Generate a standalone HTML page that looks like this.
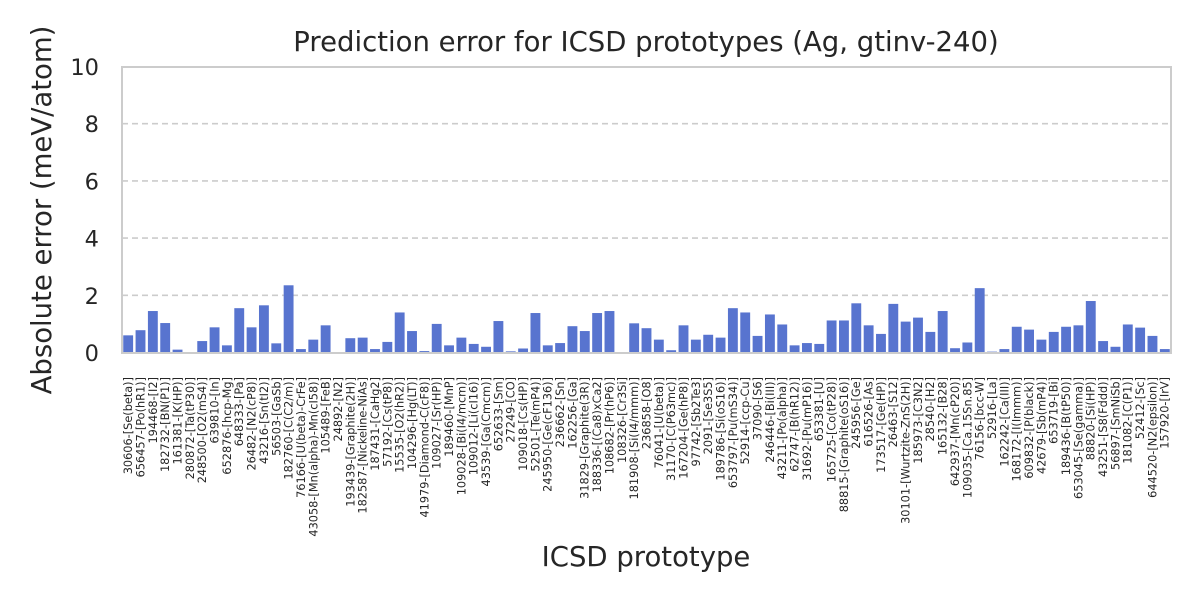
<!DOCTYPE html>
<html><head><meta charset="utf-8"><style>
html,body{margin:0;padding:0;background:#fff;}
svg{display:block;font-family:"DejaVu Sans","Liberation Sans",sans-serif;}
</style></head><body>
<svg width="1200" height="600" viewBox="0 0 1200 600" xmlns="http://www.w3.org/2000/svg">
<rect width="1200" height="600" fill="#fff"/>
<g stroke="#cccccc" stroke-width="1.6" stroke-dasharray="6,4">
<line x1="122" x2="1171" y1="295.3" y2="295.3"/>
<line x1="122" x2="1171" y1="238.1" y2="238.1"/>
<line x1="122" x2="1171" y1="180.9" y2="180.9"/>
<line x1="122" x2="1171" y1="123.7" y2="123.7"/>
</g>
<g transform="translate(122,352.5) scale(12.341,-28.6)" fill="#5874cf">
<rect x="0.1" width="0.8" height="0.6"/>
<rect x="1.1" width="0.8" height="0.78"/>
<rect x="2.1" width="0.8" height="1.45"/>
<rect x="3.1" width="0.8" height="1.03"/>
<rect x="4.1" width="0.8" height="0.1"/>
<rect x="5.1" width="0.8" height="0.0"/>
<rect x="6.1" width="0.8" height="0.4"/>
<rect x="7.1" width="0.8" height="0.88"/>
<rect x="8.1" width="0.8" height="0.25"/>
<rect x="9.1" width="0.8" height="1.55"/>
<rect x="10.1" width="0.8" height="0.88"/>
<rect x="11.1" width="0.8" height="1.65"/>
<rect x="12.1" width="0.8" height="0.32"/>
<rect x="13.1" width="0.8" height="2.35"/>
<rect x="14.1" width="0.8" height="0.12"/>
<rect x="15.1" width="0.8" height="0.45"/>
<rect x="16.1" width="0.8" height="0.95"/>
<rect x="17.1" width="0.8" height="0.0"/>
<rect x="18.1" width="0.8" height="0.5"/>
<rect x="19.1" width="0.8" height="0.52"/>
<rect x="20.1" width="0.8" height="0.12"/>
<rect x="21.1" width="0.8" height="0.37"/>
<rect x="22.1" width="0.8" height="1.4"/>
<rect x="23.1" width="0.8" height="0.75"/>
<rect x="24.1" width="0.8" height="0.05"/>
<rect x="25.1" width="0.8" height="1.0"/>
<rect x="26.1" width="0.8" height="0.25"/>
<rect x="27.1" width="0.8" height="0.52"/>
<rect x="28.1" width="0.8" height="0.3"/>
<rect x="29.1" width="0.8" height="0.2"/>
<rect x="30.1" width="0.8" height="1.1"/>
<rect x="31.1" width="0.8" height="0.04"/>
<rect x="32.1" width="0.8" height="0.14"/>
<rect x="33.1" width="0.8" height="1.38"/>
<rect x="34.1" width="0.8" height="0.25"/>
<rect x="35.1" width="0.8" height="0.33"/>
<rect x="36.1" width="0.8" height="0.92"/>
<rect x="37.1" width="0.8" height="0.75"/>
<rect x="38.1" width="0.8" height="1.38"/>
<rect x="39.1" width="0.8" height="1.45"/>
<rect x="40.1" width="0.8" height="0.0"/>
<rect x="41.1" width="0.8" height="1.02"/>
<rect x="42.1" width="0.8" height="0.85"/>
<rect x="43.1" width="0.8" height="0.45"/>
<rect x="44.1" width="0.8" height="0.08"/>
<rect x="45.1" width="0.8" height="0.95"/>
<rect x="46.1" width="0.8" height="0.45"/>
<rect x="47.1" width="0.8" height="0.62"/>
<rect x="48.1" width="0.8" height="0.52"/>
<rect x="49.1" width="0.8" height="1.55"/>
<rect x="50.1" width="0.8" height="1.4"/>
<rect x="51.1" width="0.8" height="0.58"/>
<rect x="52.1" width="0.8" height="1.33"/>
<rect x="53.1" width="0.8" height="0.98"/>
<rect x="54.1" width="0.8" height="0.25"/>
<rect x="55.1" width="0.8" height="0.33"/>
<rect x="56.1" width="0.8" height="0.3"/>
<rect x="57.1" width="0.8" height="1.12"/>
<rect x="58.1" width="0.8" height="1.12"/>
<rect x="59.1" width="0.8" height="1.72"/>
<rect x="60.1" width="0.8" height="0.95"/>
<rect x="61.1" width="0.8" height="0.65"/>
<rect x="62.1" width="0.8" height="1.7"/>
<rect x="63.1" width="0.8" height="1.08"/>
<rect x="64.1" width="0.8" height="1.22"/>
<rect x="65.1" width="0.8" height="0.72"/>
<rect x="66.1" width="0.8" height="1.45"/>
<rect x="67.1" width="0.8" height="0.15"/>
<rect x="68.1" width="0.8" height="0.35"/>
<rect x="69.1" width="0.8" height="2.25"/>
<rect x="70.1" width="0.8" height="0.03"/>
<rect x="71.1" width="0.8" height="0.12"/>
<rect x="72.1" width="0.8" height="0.9"/>
<rect x="73.1" width="0.8" height="0.8"/>
<rect x="74.1" width="0.8" height="0.45"/>
<rect x="75.1" width="0.8" height="0.72"/>
<rect x="76.1" width="0.8" height="0.9"/>
<rect x="77.1" width="0.8" height="0.95"/>
<rect x="78.1" width="0.8" height="1.8"/>
<rect x="79.1" width="0.8" height="0.4"/>
<rect x="80.1" width="0.8" height="0.2"/>
<rect x="81.1" width="0.8" height="0.98"/>
<rect x="82.1" width="0.8" height="0.87"/>
<rect x="83.1" width="0.8" height="0.58"/>
<rect x="84.1" width="0.8" height="0.12"/>
</g>
<rect x="122" y="67" width="1049" height="286" fill="none" stroke="#cccccc" stroke-width="2"/>
<g font-size="22.5" fill="#262626" text-anchor="end">
<text x="99" y="361">0</text>
<text x="99" y="303.8">2</text>
<text x="99" y="246.6">4</text>
<text x="99" y="189.4">6</text>
<text x="99" y="132.2">8</text>
<text x="99" y="75">10</text>
</g>
<text x="646" y="51" font-size="27.5" fill="#262626" text-anchor="middle">Prediction error for ICSD prototypes (Ag, gtinv-240)</text>
<text x="646" y="566" font-size="27.5" fill="#262626" text-anchor="middle">ICSD prototype</text>
<text transform="translate(51,210) rotate(-90)" font-size="27.5" fill="#262626" text-anchor="middle">Absolute error (meV/atom)</text>
<g font-size="11.3" fill="#262626" text-anchor="end">
<text transform="translate(128.2,377) rotate(-90)" dy="0.35em">30606-[Se(beta)]</text>
<text transform="translate(140.5,377) rotate(-90)" dy="0.35em">656457-[Po(hR1)]</text>
<text transform="translate(152.9,377) rotate(-90)" dy="0.35em">194468-[I2]</text>
<text transform="translate(165.2,377) rotate(-90)" dy="0.35em">182732-[BN(P1)]</text>
<text transform="translate(177.5,377) rotate(-90)" dy="0.35em">161381-[K(HP)]</text>
<text transform="translate(189.9,377) rotate(-90)" dy="0.35em">280872-[Ta(tP30)]</text>
<text transform="translate(202.2,377) rotate(-90)" dy="0.35em">248500-[O2(mS4)]</text>
<text transform="translate(214.6,377) rotate(-90)" dy="0.35em">639810-[In]</text>
<text transform="translate(226.9,377) rotate(-90)" dy="0.35em">652876-[hcp-Mg]</text>
<text transform="translate(239.2,377) rotate(-90)" dy="0.35em">648333-[Pa]</text>
<text transform="translate(251.6,377) rotate(-90)" dy="0.35em">26482-[N2(cP8)]</text>
<text transform="translate(263.9,377) rotate(-90)" dy="0.35em">43216-[Sn(tI2)]</text>
<text transform="translate(276.3,377) rotate(-90)" dy="0.35em">56503-[GaSb]</text>
<text transform="translate(288.6,377) rotate(-90)" dy="0.35em">182760-[C(C2/m)]</text>
<text transform="translate(300.9,377) rotate(-90)" dy="0.35em">76166-[U(beta)-CrFe]</text>
<text transform="translate(313.3,377) rotate(-90)" dy="0.35em">43058-[Mn(alpha)-Mn(cI58)]</text>
<text transform="translate(325.6,377) rotate(-90)" dy="0.35em">105489-[FeB]</text>
<text transform="translate(337.9,377) rotate(-90)" dy="0.35em">24892-[N2]</text>
<text transform="translate(350.3,377) rotate(-90)" dy="0.35em">193439-[Graphite(2H)]</text>
<text transform="translate(362.6,377) rotate(-90)" dy="0.35em">182587-[Nickeline-NiAs]</text>
<text transform="translate(375.0,377) rotate(-90)" dy="0.35em">187431-[CaHg2]</text>
<text transform="translate(387.3,377) rotate(-90)" dy="0.35em">57192-[Cs(tP8)]</text>
<text transform="translate(399.6,377) rotate(-90)" dy="0.35em">15535-[O2(hR2)]</text>
<text transform="translate(412.0,377) rotate(-90)" dy="0.35em">104296-[Hg(LT)]</text>
<text transform="translate(424.3,377) rotate(-90)" dy="0.35em">41979-[Diamond-C(cF8)]</text>
<text transform="translate(436.7,377) rotate(-90)" dy="0.35em">109027-[Sr(HP)]</text>
<text transform="translate(449.0,377) rotate(-90)" dy="0.35em">189460-[MnP]</text>
<text transform="translate(461.3,377) rotate(-90)" dy="0.35em">109028-[Bi(I4/mcm)]</text>
<text transform="translate(473.7,377) rotate(-90)" dy="0.35em">109012-[Li(cI16)]</text>
<text transform="translate(486.0,377) rotate(-90)" dy="0.35em">43539-[Ga(Cmcm)]</text>
<text transform="translate(498.4,377) rotate(-90)" dy="0.35em">652633-[Sm]</text>
<text transform="translate(510.7,377) rotate(-90)" dy="0.35em">27249-[CO]</text>
<text transform="translate(523.0,377) rotate(-90)" dy="0.35em">109018-[Cs(HP)]</text>
<text transform="translate(535.4,377) rotate(-90)" dy="0.35em">52501-[Te(mP4)]</text>
<text transform="translate(547.7,377) rotate(-90)" dy="0.35em">245950-[Ge(cF136)]</text>
<text transform="translate(560.1,377) rotate(-90)" dy="0.35em">236662-[Sn]</text>
<text transform="translate(572.4,377) rotate(-90)" dy="0.35em">162256-[Ga]</text>
<text transform="translate(584.7,377) rotate(-90)" dy="0.35em">31829-[Graphite(3R)]</text>
<text transform="translate(597.1,377) rotate(-90)" dy="0.35em">188336-[(Ca8)xCa2]</text>
<text transform="translate(609.4,377) rotate(-90)" dy="0.35em">108682-[Pr(hP6)]</text>
<text transform="translate(621.8,377) rotate(-90)" dy="0.35em">108326-[Cr3Si]</text>
<text transform="translate(634.1,377) rotate(-90)" dy="0.35em">181908-[Si(I4/mmm)]</text>
<text transform="translate(646.4,377) rotate(-90)" dy="0.35em">236858-[O8]</text>
<text transform="translate(658.8,377) rotate(-90)" dy="0.35em">76041-[U(beta)]</text>
<text transform="translate(671.1,377) rotate(-90)" dy="0.35em">31170-[C(P63mc)]</text>
<text transform="translate(683.5,377) rotate(-90)" dy="0.35em">167204-[Ge(hP8)]</text>
<text transform="translate(695.8,377) rotate(-90)" dy="0.35em">97742-[Sb2Te3]</text>
<text transform="translate(708.1,377) rotate(-90)" dy="0.35em">2091-[Se3S5]</text>
<text transform="translate(720.5,377) rotate(-90)" dy="0.35em">189786-[Si(oS16)]</text>
<text transform="translate(732.8,377) rotate(-90)" dy="0.35em">653797-[Pu(mS34)]</text>
<text transform="translate(745.1,377) rotate(-90)" dy="0.35em">52914-[ccp-Cu]</text>
<text transform="translate(757.5,377) rotate(-90)" dy="0.35em">37090-[S6]</text>
<text transform="translate(769.8,377) rotate(-90)" dy="0.35em">246446-[Bi(III)]</text>
<text transform="translate(782.2,377) rotate(-90)" dy="0.35em">43211-[Po(alpha)]</text>
<text transform="translate(794.5,377) rotate(-90)" dy="0.35em">62747-[B(hR12)]</text>
<text transform="translate(806.8,377) rotate(-90)" dy="0.35em">31692-[Pu(mP16)]</text>
<text transform="translate(819.2,377) rotate(-90)" dy="0.35em">653381-[U]</text>
<text transform="translate(831.5,377) rotate(-90)" dy="0.35em">165725-[Co(tP28)]</text>
<text transform="translate(843.9,377) rotate(-90)" dy="0.35em">88815-[Graphite(oS16)]</text>
<text transform="translate(856.2,377) rotate(-90)" dy="0.35em">245956-[Ge]</text>
<text transform="translate(868.5,377) rotate(-90)" dy="0.35em">616526-[As]</text>
<text transform="translate(880.9,377) rotate(-90)" dy="0.35em">173517-[Ge(HP)]</text>
<text transform="translate(893.2,377) rotate(-90)" dy="0.35em">26463-[S12]</text>
<text transform="translate(905.6,377) rotate(-90)" dy="0.35em">30101-[Wurtzite-ZnS(2H)]</text>
<text transform="translate(917.9,377) rotate(-90)" dy="0.35em">185973-[C3N2]</text>
<text transform="translate(930.2,377) rotate(-90)" dy="0.35em">28540-[H2]</text>
<text transform="translate(942.6,377) rotate(-90)" dy="0.35em">165132-[B28]</text>
<text transform="translate(954.9,377) rotate(-90)" dy="0.35em">642937-[Mn(cP20)]</text>
<text transform="translate(967.3,377) rotate(-90)" dy="0.35em">109035-[Ca.15Sn.85]</text>
<text transform="translate(979.6,377) rotate(-90)" dy="0.35em">76156-[bcc-W]</text>
<text transform="translate(991.9,377) rotate(-90)" dy="0.35em">52916-[La]</text>
<text transform="translate(1004.3,377) rotate(-90)" dy="0.35em">162242-[Ca(III)]</text>
<text transform="translate(1016.6,377) rotate(-90)" dy="0.35em">168172-[I(Immm)]</text>
<text transform="translate(1029.0,377) rotate(-90)" dy="0.35em">609832-[P(black)]</text>
<text transform="translate(1041.3,377) rotate(-90)" dy="0.35em">42679-[Sb(mP4)]</text>
<text transform="translate(1053.6,377) rotate(-90)" dy="0.35em">653719-[Bi]</text>
<text transform="translate(1066.0,377) rotate(-90)" dy="0.35em">189436-[B(tP50)]</text>
<text transform="translate(1078.3,377) rotate(-90)" dy="0.35em">653045-[Se(gamma)]</text>
<text transform="translate(1090.7,377) rotate(-90)" dy="0.35em">88820-[Si(HP)]</text>
<text transform="translate(1103.0,377) rotate(-90)" dy="0.35em">43251-[S8(Fddd)]</text>
<text transform="translate(1115.3,377) rotate(-90)" dy="0.35em">56897-[SmNiSb]</text>
<text transform="translate(1127.7,377) rotate(-90)" dy="0.35em">181082-[C(P1)]</text>
<text transform="translate(1140.0,377) rotate(-90)" dy="0.35em">52412-[Sc]</text>
<text transform="translate(1152.3,377) rotate(-90)" dy="0.35em">644520-[N2(epsilon)]</text>
<text transform="translate(1164.7,377) rotate(-90)" dy="0.35em">157920-[IrV]</text>
</g>
</svg>
</body></html>
